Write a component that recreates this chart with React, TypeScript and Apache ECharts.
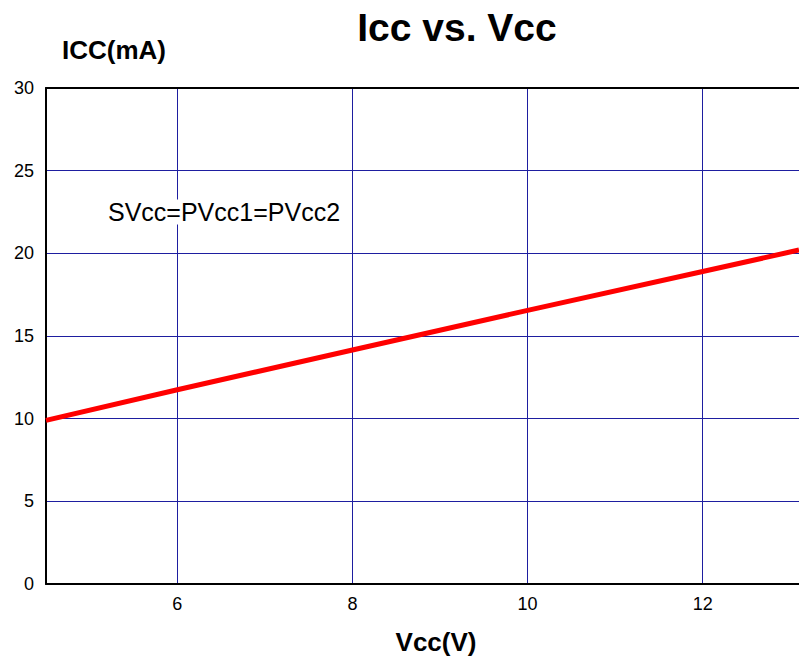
import React, { useEffect, useRef } from "react";
import * as echarts from "echarts";

const vcc = [4.5, 6, 8, 10, 12, 13.1];
const icc = [9.9, 11.75, 14.15, 16.55, 18.9, 20.2];
const titleText = "Icc vs. Vcc";
const yName = "ICC(mA)";
const xName = "Vcc(V)";
const noteText = "SVcc=PVcc1=PVcc2";

const FONT = "Arial, 'Liberation Sans', sans-serif";
const GRID_BLUE = "#1e1ea0";

export default function App() {
  const ref = useRef<HTMLDivElement>(null);
  useEffect(() => {
    document.body.style.margin = "0";
    const chart = echarts.init(ref.current!, null, { renderer: "svg" });
    chart.setOption({
      animation: false,
      backgroundColor: "#ffffff",
      textStyle: { fontFamily: FONT },
      grid: { left: 46, top: 88, right: 0, bottom: 75, containLabel: false },
      xAxis: [
        {
          type: "value",
          min: 4.5,
          max: 13.1,
          axisLine: { show: true, onZero: false, lineStyle: { color: "#000", width: 2 } },
          axisTick: { show: false },
          axisLabel: {
            show: true,
            color: "#000",
            fontSize: 18,
            fontFamily: FONT,
            margin: 11,
            showMinLabel: false,
            showMaxLabel: false,
          },
          splitLine: { show: true, lineStyle: { color: GRID_BLUE, width: 1 } },
        },
        {
          type: "value",
          position: "top",
          min: 4.5,
          max: 13.1,
          axisLine: { show: true, onZero: false, lineStyle: { color: "#000", width: 2 } },
          axisTick: { show: false },
          axisLabel: { show: false },
          splitLine: { show: false },
        },
      ],
      yAxis: {
        type: "value",
        min: 0,
        max: 30,
        interval: 5,
        axisLine: { show: true, onZero: false, lineStyle: { color: "#000", width: 2 } },
        axisTick: { show: false },
        axisLabel: { color: "#000", fontSize: 18, fontFamily: FONT, margin: 12 },
        splitLine: { show: true, lineStyle: { color: GRID_BLUE, width: 1 } },
      },
      graphic: [
        {
          type: "text",
          x: 457,
          y: 27,
          style: {
            text: titleText,
            fontSize: 39,
            fontWeight: "bold",
            fontFamily: FONT,
            fill: "#000",
            align: "center",
            verticalAlign: "middle",
          },
        },
        {
          type: "text",
          x: 114,
          y: 50,
          style: {
            text: yName,
            fontSize: 26,
            fontWeight: "bold",
            fontFamily: FONT,
            fill: "#000",
            align: "center",
            verticalAlign: "middle",
          },
        },
        {
          type: "text",
          x: 436,
          y: 642,
          style: {
            text: xName,
            fontSize: 26,
            fontWeight: "bold",
            fontFamily: FONT,
            fill: "#000",
            align: "center",
            verticalAlign: "middle",
          },
        },
        {
          type: "text",
          x: 108,
          y: 212,
          z: 10,
          style: {
            text: noteText,
            fontSize: 25,
            fontFamily: FONT,
            fill: "#000",
            align: "left",
            verticalAlign: "middle",
            backgroundColor: "#fff",
          },
        },
      ],
      series: [
        {
          type: "line",
          xAxisIndex: 0,
          data: vcc.map((v, i) => [v, icc[i]]),
          showSymbol: false,
          symbol: "none",
          lineStyle: { color: "#ff0000", width: 5 },
          itemStyle: { color: "#ff0000" },
          z: 5,
        },
      ],
    });
    return () => chart.dispose();
  }, []);
  return <div ref={ref} style={{ width: 799, height: 659 }} />;
}
